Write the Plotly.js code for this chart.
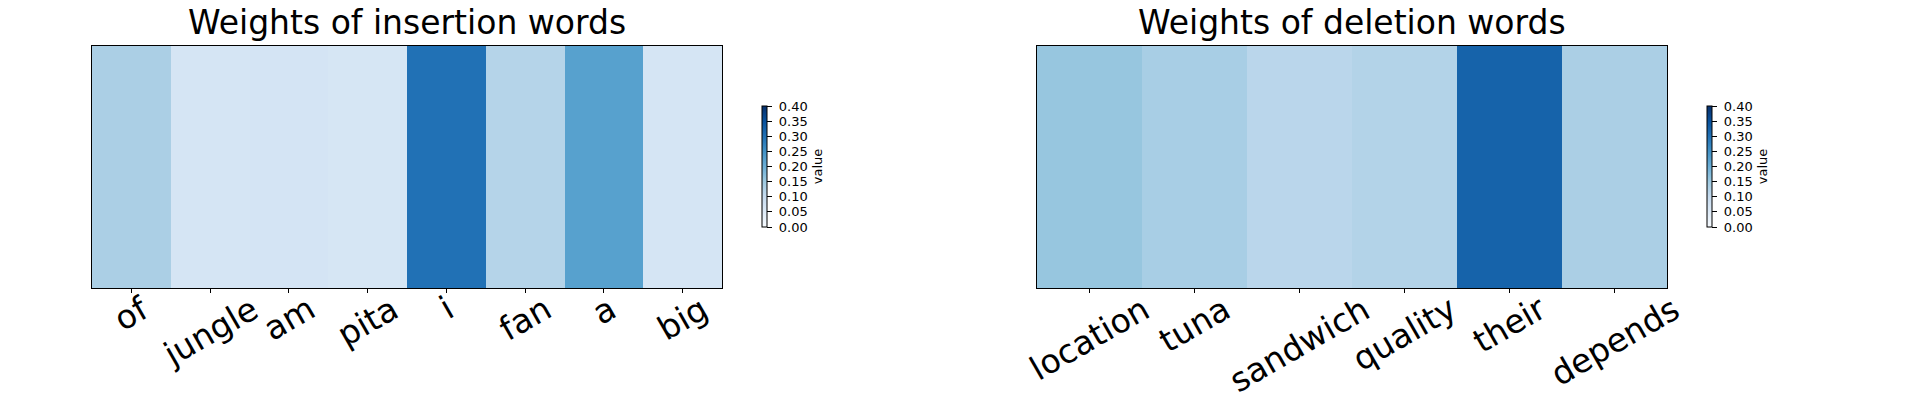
<!DOCTYPE html>
<html>
<head>
<meta charset="utf-8">
<script src="https://cdn.plot.ly/plotly-3.0.1.min.js"></script>
<style>
  html, body { margin: 0; padding: 0; background: #fff; }
  #chart { width: 1916px; height: 400px; }
</style>
</head>
<body>
<div id="chart"></div>
<script>
// words and their weights
const insertWords = ['of', 'jungle', 'am', 'pita', 'i', 'fan', 'a', 'big'];
const insertWeights = [0.134, 0.069, 0.071, 0.067, 0.300, 0.121, 0.224, 0.069];

const deleteWords = ['location', 'tuna', 'sandwich', 'quality', 'their', 'depends'];
const deleteWeights = [0.157, 0.137, 0.115, 0.124, 0.322, 0.134];

const cbTicks = [0, 0.05, 0.1, 0.15, 0.2, 0.25, 0.3, 0.35, 0.4];

// matplotlib "Blues"
const blues = [
  [0, '#f7fbff'], [0.125, '#deebf7'], [0.25, '#c6dbef'], [0.375, '#9ecae1'],
  [0.5, '#6baed6'], [0.625, '#4292c6'], [0.75, '#2171b5'], [0.875, '#08519c'],
  [1, '#08306b']
];

const font = 'DejaVu Sans, sans-serif';
const W = 1916, H = 400;
const tickSize = 33;

function colorbar(xPix) {
  return {
    x: xPix / W, xanchor: 'left', xpad: 0,
    y: 1 - 166.5 / H, yanchor: 'middle', ypad: 0,
    len: 121 / H, lenmode: 'fraction',
    thickness: 5, outlinewidth: 1, outlinecolor: '#000',
    ticks: 'outside', ticklen: 5, tickcolor: '#000',
    tickvals: cbTicks, ticktext: cbTicks.map(v => '\u00a0' + v.toFixed(2)),
    tickfont: { family: font, size: 13, color: '#000' },
    title: { text: 'value', side: 'right', font: { family: font, size: 13, color: '#000' } }
  };
}

const data = [
  {
    type: 'heatmap', x: insertWords, y: [0], z: [insertWeights],
    zmin: 0, zmax: 0.4, colorscale: blues, xaxis: 'x', yaxis: 'y',
    colorbar: colorbar(762)
  },
  {
    type: 'heatmap', x: deleteWords, y: [0], z: [deleteWeights],
    zmin: 0, zmax: 0.4, colorscale: blues, xaxis: 'x2', yaxis: 'y2',
    colorbar: colorbar(1707)
  }
];

const xbase = {
  showline: true, mirror: true, linecolor: '#000', linewidth: 1,
  ticks: 'outside', ticklen: 4, tickcolor: '#000',
  showticklabels: false, showgrid: false, zeroline: false
};
const ybase = {
  showline: true, mirror: true, linecolor: '#000', linewidth: 1,
  showticklabels: false, ticks: '', showgrid: false, zeroline: false,
  range: [-0.5, 0.5]
};
const yDom = [1 - 288 / H, 1 - 46 / H];
const leftDom = [92 / W, 722 / W];
const rightDom = [1037 / W, 1667 / W];

// rotated word labels, centred under each category like matplotlib
function wordLabels(words, xref) {
  return words.map(w => ({
    text: w, xref: xref, yref: 'paper', x: w, y: yDom[0],
    xanchor: 'center', yanchor: 'top', yshift: 2, textangle: -30,
    showarrow: false, font: { family: font, size: tickSize, color: '#000' }
  }));
}

function title(text, dom) {
  return {
    text: text, xref: 'paper', yref: 'paper',
    x: (dom[0] + dom[1]) / 2, y: yDom[1], yshift: 2,
    xanchor: 'center', yanchor: 'bottom',
    showarrow: false, font: { family: font, size: 33, color: '#000' }
  };
}

const layout = {
  width: W, height: H,
  margin: { l: 0, r: 0, t: 0, b: 0 },
  paper_bgcolor: '#fff', plot_bgcolor: '#fff',
  showlegend: false,
  xaxis: Object.assign({}, xbase, { domain: leftDom, anchor: 'y', range: [-0.5, insertWords.length - 0.5] }),
  yaxis: Object.assign({}, ybase, { domain: yDom, anchor: 'x' }),
  xaxis2: Object.assign({}, xbase, { domain: rightDom, anchor: 'y2', range: [-0.5, deleteWords.length - 0.5] }),
  yaxis2: Object.assign({}, ybase, { domain: yDom, anchor: 'x2' }),
  annotations: [
    title('Weights of insertion words', leftDom),
    title('Weights of deletion words', rightDom)
  ].concat(wordLabels(insertWords, 'x'), wordLabels(deleteWords, 'x2'))
};

Plotly.newPlot('chart', data, layout, { displayModeBar: false, staticPlot: true });
</script>
</body>
</html>
